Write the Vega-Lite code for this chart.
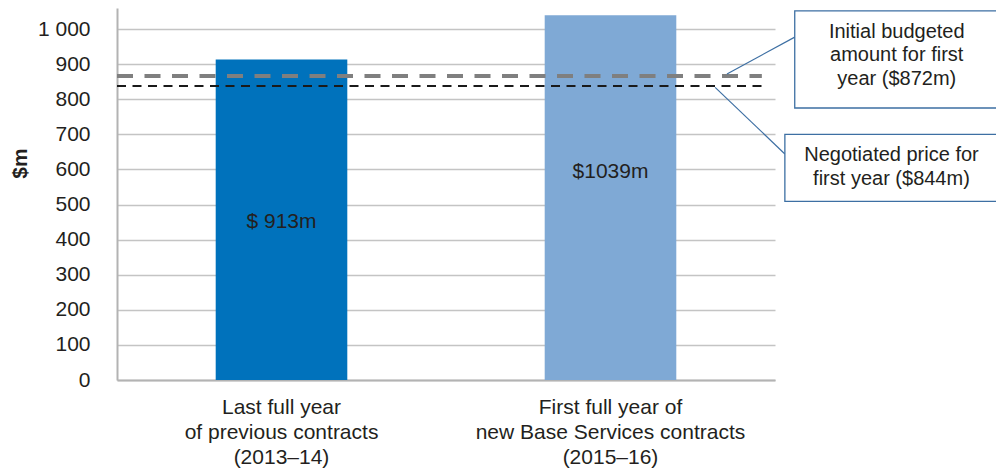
{
  "$schema": "https://vega.github.io/schema/vega-lite/v6.json",
  "width": 658,
  "height": 372,
  "autosize": "none",
  "padding": {"left": 117, "top": 8, "right": 221, "bottom": 91},
  "config": {
    "view": {"stroke": null},
    "font": "Liberation Sans",
    "text": {"font": "Liberation Sans"},
    "axisY": {"tickCount": 11, "labelOverlap": false}
  },
  "datasets": {
    "bars": [
      {"category": "Last full year|of previous contracts|(2013–14)", "value": 913, "label": "$ 913m", "label_at": 450},
      {"category": "First full year of|new Base Services contracts|(2015–16)", "value": 1039, "label": "$1039m", "label_at": 593}
    ],
    "refs": [
      {"name": "Initial budgeted amount", "value": 866, "x1": 0, "x2": 98},
      {"name": "Negotiated price", "value": 838, "x1": 0, "x2": 98.9}
    ],
    "leaders": [
      {"name": "Initial budgeted amount", "x1": 92.7, "y1": 872, "x2": 103.0, "y2": 977},
      {"name": "Negotiated price", "x1": 90.9, "y1": 834, "x2": 101.5, "y2": 644}
    ],
    "boxes": [
      {"name": "Initial budgeted amount", "x1": 103.0, "x2": 134.5, "y1": 1052, "y2": 775, "tx": 118.5, "ty": 992, "text": "Initial budgeted\namount for first\nyear ($872m)"},
      {"name": "Negotiated price", "x1": 101.5, "x2": 134.5, "y1": 700, "y2": 509, "tx": 117.7, "ty": 641, "text": "Negotiated price for\nfirst year ($844m)"}
    ]
  },
  "layer": [
    {
      "layer": [
        {
          "data": {"name": "bars"},
          "mark": {"type": "bar"},
          "encoding": {
            "x": {
              "field": "category", "type": "nominal", "sort": null,
              "scale": {"paddingInner": 0.6, "paddingOuter": 0.3},
              "axis": {
                "title": null,
                "labelExpr": "split(datum.label, '|')",
                "labelAngle": 0,
                "labelFontSize": 21,
                "labelLineHeight": 25,
                "labelColor": "#231f20",
                "labelPadding": 16,
                "labelBaseline": "top",
                "labelLimit": 500,
                "labelOverlap": false,
                "ticks": false,
                "domainColor": "#b3b3b3",
                "domainWidth": 2,
                "grid": false
              }
            },
            "y": {
              "field": "value", "type": "quantitative",
              "scale": {"domain": [0, 1060], "nice": false, "zero": true},
              "axis": {
                "values": [0, 100, 200, 300, 400, 500, 600, 700, 800, 900, 1000],
                "tickCount": 11,
                "labelExpr": "replace(format(datum.value, ','), ',', ' ')",
                "labelFontSize": 21,
                "labelColor": "#231f20",
                "labelPadding": 27,
                "labelOverlap": false,
                "labelBound": false,
                "ticks": false,
                "domainColor": "#b3b3b3",
                "domainWidth": 2,
                "gridColor": "#c4c4c4",
                "gridWidth": 1.3,
                "title": "$m",
                "titleFontSize": 21,
                "titleFontWeight": "bold",
                "titleColor": "#231f20",
                "titleX": -97,
                "titleY": 155,
                "titleAlign": "center",
                "titleBaseline": "middle",
                "titleAngle": 270
              }
            },
            "color": {
              "field": "category", "type": "nominal", "sort": null,
              "scale": {"range": ["#0072BC", "#7FA9D5"]},
              "legend": null
            }
          }
        },
        {
          "data": {"name": "bars"},
          "mark": {"type": "text", "fontSize": 21, "color": "#231f20", "baseline": "middle", "align": "center"},
          "encoding": {
            "x": {"field": "category", "type": "nominal", "sort": null, "scale": {"paddingInner": 0.6, "paddingOuter": 0.3}},
            "y": {"field": "label_at", "type": "quantitative", "scale": {"domain": [0, 1060], "nice": false}},
            "text": {"field": "label"}
          }
        }
      ]
    },
    {
      "layer": [
        {
          "data": {"name": "refs"},
          "transform": [{"filter": "datum.name == 'Initial budgeted amount'"}],
          "mark": {"type": "rule", "color": "#7f7f7f", "strokeWidth": 4, "strokeDash": [16, 11.5]},
          "encoding": {
            "x": {"field": "x1", "type": "quantitative", "scale": {"domain": [0, 100], "nice": false, "zero": false}, "axis": null},
            "x2": {"field": "x2"},
            "y": {"field": "value", "type": "quantitative", "scale": {"domain": [0, 1060], "nice": false}}
          }
        },
        {
          "data": {"name": "refs"},
          "transform": [{"filter": "datum.name == 'Negotiated price'"}],
          "mark": {"type": "rule", "color": "#1a1a1a", "strokeWidth": 2, "strokeDash": [9, 6.5]},
          "encoding": {
            "x": {"field": "x1", "type": "quantitative", "scale": {"domain": [0, 100], "nice": false, "zero": false}, "axis": null},
            "x2": {"field": "x2"},
            "y": {"field": "value", "type": "quantitative", "scale": {"domain": [0, 1060], "nice": false}}
          }
        },
        {
          "data": {"name": "leaders"},
          "mark": {"type": "rule", "color": "#3d6fa3", "strokeWidth": 1.2},
          "encoding": {
            "x": {"field": "x1", "type": "quantitative", "scale": {"domain": [0, 100], "nice": false, "zero": false}, "axis": null},
            "x2": {"field": "x2"},
            "y": {"field": "y1", "type": "quantitative", "scale": {"domain": [0, 1060], "nice": false}},
            "y2": {"field": "y2"}
          }
        },
        {
          "data": {"name": "boxes"},
          "mark": {"type": "rect", "fill": "white", "stroke": "#3d6fa3", "strokeWidth": 1.3},
          "encoding": {
            "x": {"field": "x1", "type": "quantitative", "scale": {"domain": [0, 100], "nice": false, "zero": false}, "axis": null},
            "x2": {"field": "x2"},
            "y": {"field": "y1", "type": "quantitative", "scale": {"domain": [0, 1060], "nice": false}},
            "y2": {"field": "y2"}
          }
        },
        {
          "data": {"name": "boxes"},
          "mark": {"type": "text", "fontSize": 20, "color": "#231f20", "align": "center", "baseline": "middle", "lineBreak": "\n", "lineHeight": 23.5},
          "encoding": {
            "x": {"field": "tx", "type": "quantitative", "scale": {"domain": [0, 100], "nice": false, "zero": false}, "axis": null},
            "y": {"field": "ty", "type": "quantitative", "scale": {"domain": [0, 1060], "nice": false}},
            "text": {"field": "text"}
          }
        }
      ]
    }
  ],
  "resolve": {"scale": {"x": "independent", "color": "independent"}}
}
